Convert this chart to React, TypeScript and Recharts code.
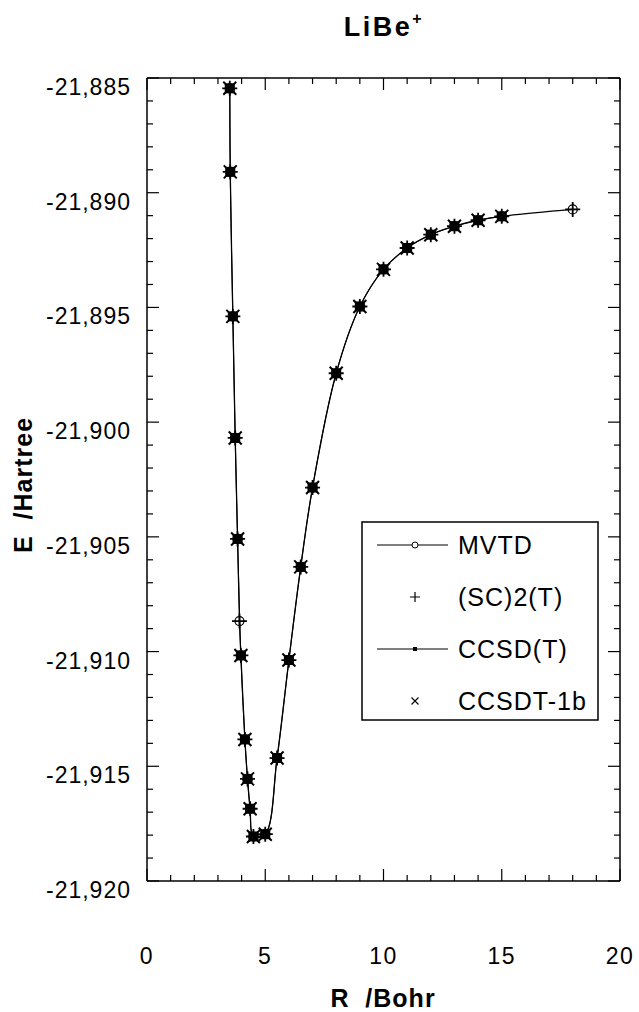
import React from 'react';
import { LineChart, Line, XAxis, YAxis } from 'recharts';

// ---- data ----
const R_MVTD = [3.5, 3.52, 3.63, 3.73, 3.83, 3.91, 3.97, 4.14, 4.25, 4.36, 4.5, 5, 5.5, 6, 6.5, 7, 8, 9, 10, 11, 12, 13, 14, 15, 18];
const E_MVTD = [-21.88545, -21.88909, -21.89539, -21.90069, -21.90509, -21.90867, -21.91017, -21.91383, -21.91555, -21.91685, -21.91806, -21.91796, -21.91464, -21.91037, -21.90631, -21.90285, -21.89787, -21.89496, -21.89334, -21.89241, -21.89183, -21.89146, -21.8912, -21.89103, -21.89073];

const R_SC2T = [3.5, 3.52, 3.63, 3.73, 3.83, 3.91, 3.97, 4.14, 4.25, 4.36, 4.5, 5, 5.5, 6, 6.5, 7, 8, 9, 10, 11, 12, 13, 14, 15, 18];
const E_SC2T = [-21.88545, -21.88909, -21.89539, -21.90069, -21.90509, -21.90867, -21.91017, -21.91383, -21.91555, -21.91685, -21.91806, -21.91796, -21.91464, -21.91037, -21.90631, -21.90285, -21.89787, -21.89496, -21.89334, -21.89241, -21.89183, -21.89146, -21.8912, -21.89103, -21.89073];

const R_CCSDT = [3.5, 3.52, 3.63, 3.73, 3.83, 3.97, 4.14, 4.25, 4.36, 4.5, 5, 5.5, 6, 6.5, 7, 8, 9, 10, 11, 12, 13, 14, 15];
const E_CCSDT = [-21.88545, -21.88909, -21.89539, -21.90069, -21.90509, -21.91017, -21.91383, -21.91555, -21.91685, -21.91806, -21.91796, -21.91464, -21.91037, -21.90631, -21.90285, -21.89787, -21.89496, -21.89334, -21.89241, -21.89183, -21.89146, -21.8912, -21.89103];

const R_CCSDT1B = [3.5, 3.52, 3.63, 3.73, 3.83, 3.97, 4.14, 4.25, 4.36, 4.5, 5, 5.5, 6, 6.5, 7, 8, 9, 10, 11, 12, 13, 14, 15];
const E_CCSDT1B = [-21.88545, -21.88909, -21.89539, -21.90069, -21.90509, -21.91017, -21.91383, -21.91555, -21.91685, -21.91806, -21.91796, -21.91464, -21.91037, -21.90631, -21.90285, -21.89787, -21.89496, -21.89334, -21.89241, -21.89183, -21.89146, -21.8912, -21.89103];

const X_TICKS = [0, 1, 2, 3, 4, 5, 6, 7, 8, 9, 10, 11, 12, 13, 14, 15, 16, 17, 18, 19, 20];
const X_LABELS = [0, 5, 10, 15, 20];
const X_DOMAIN = [0, 20];
const Y_DOMAIN = [-21.92, -21.885];
const Y_TICKS: number[] = [];
for (let i = 0; i <= 35; i++) Y_TICKS.push(Math.round((-21.92 + i * 0.001) * 1e6) / 1e6);

const TITLE = 'LiBe';
const X_TITLE = 'R  /Bohr';
const Y_TITLE = 'E  /Hartree';
const SERIES_NAMES = ['MVTD', '(SC)2(T)', 'CCSD(T)', 'CCSDT-1b'];

const toRows = (rs: number[], es: number[]) => rs.map((r, i) => ({ R: r, E: es[i] }));
const dMVTD = toRows(R_MVTD, E_MVTD);
const dSC2T = toRows(R_SC2T, E_SC2T);
const dCCSDT = toRows(R_CCSDT, E_CCSDT);
const dCCSDT1B = toRows(R_CCSDT1B, E_CCSDT1B);

// ---- layout ----
const W = 639;
const H = 1012;
const M_TOP = 78;
const M_RIGHT = 19;
const X_AXIS_H = 131;
const Y_AXIS_W = 147;
const PLOT_L = Y_AXIS_W;
const PLOT_R = W - M_RIGHT;
const PLOT_T = M_TOP;
const PLOT_B = H - X_AXIS_H;
// same linear mapping the chart uses, for the mirrored frame ticks on top / right
const fx = (v: number) => PLOT_L + ((v - X_DOMAIN[0]) / (X_DOMAIN[1] - X_DOMAIN[0])) * (PLOT_R - PLOT_L);
const fy = (v: number) => PLOT_T + ((Y_DOMAIN[1] - v) / (Y_DOMAIN[1] - Y_DOMAIN[0])) * (PLOT_B - PLOT_T);

const FONT = '"Liberation Sans", Arial, Helvetica, sans-serif';
const isMajorY = (v: number) => Math.round(v * 1000) % 5 === 0;
const fmtY = (v: number) => v.toFixed(3).replace('.', ',');

// centripetal Catmull-Rom curve factory (smooth interpolating spline)
const catmullRom = (context: any) => {
  let pts: number[][] = [];
  return {
    areaStart() {},
    areaEnd() {},
    lineStart() {
      pts = [];
    },
    point(x: number, y: number) {
      pts.push([+x, +y]);
    },
    lineEnd() {
      if (!pts.length) return;
      context.moveTo(pts[0][0], pts[0][1]);
      const n = pts.length;
      for (let i = 0; i < n - 1; i++) {
        const p0 = pts[Math.max(0, i - 1)];
        const p1 = pts[i];
        const p2 = pts[i + 1];
        const p3 = pts[Math.min(n - 1, i + 2)];
        const dist = (a: number[], b: number[]) => Math.hypot(b[0] - a[0], b[1] - a[1]);
        const l01 = dist(p0, p1), l12 = dist(p1, p2), l23 = dist(p2, p3);
        const l01a = Math.sqrt(l01), l12a = Math.sqrt(l12), l23a = Math.sqrt(l23);
        let c1 = [p1[0], p1[1]];
        let c2 = [p2[0], p2[1]];
        if (l01a > 1e-9) {
          const a = 2 * l01 + 3 * l01a * l12a + l12;
          const m = 3 * l01a * (l01a + l12a);
          c1 = [(p1[0] * a - p0[0] * l12 + p2[0] * l01) / m, (p1[1] * a - p0[1] * l12 + p2[1] * l01) / m];
        }
        if (l23a > 1e-9) {
          const b = 2 * l23 + 3 * l23a * l12a + l12;
          const m = 3 * l23a * (l23a + l12a);
          c2 = [(p2[0] * b + p1[0] * l23 - p3[0] * l12) / m, (p2[1] * b + p1[1] * l23 - p3[1] * l12) / m];
        }
        context.bezierCurveTo(c1[0], c1[1], c2[0], c2[1], p2[0], p2[1]);
      }
    },
  };
};

// ---- axis ticks ----
const BottomTick = (p: any) => {
  const v = p.payload.value;
  const major = X_LABELS.includes(v);
  return (
    <g>
      <line x1={p.x} y1={p.y} x2={p.x} y2={p.y - (major ? 12 : 6)} stroke="#000" strokeWidth={1.2} />
      {major && (
        <text x={p.x} y={964} textAnchor="middle" fontFamily={FONT} fontSize={23} letterSpacing={1.5} fill="#000">
          {v}
        </text>
      )}
    </g>
  );
};
const LeftTick = (p: any) => {
  const v = p.payload.value;
  const major = isMajorY(v);
  return (
    <g>
      <line x1={p.x} y1={p.y} x2={p.x + (major ? 12 : 6)} y2={p.y} stroke="#000" strokeWidth={1.2} />
      {major && (
        <text x={131} y={p.y + 17} textAnchor="end" fontFamily={FONT} fontSize={23} letterSpacing={1} fill="#000">
          {fmtY(v)}
        </text>
      )}
    </g>
  );
};

// ---- markers ----
const Circle = ({ cx, cy, r = 4 }: any) => <circle cx={cx} cy={cy} r={r} fill="none" stroke="#000" strokeWidth={1.2} />;
const Plus = ({ cx, cy, a = 6, w = 1.6 }: any) => (
  <path d={`M${cx - a},${cy}H${cx + a}M${cx},${cy - a}V${cy + a}`} stroke="#000" strokeWidth={w} fill="none" />
);
const Cross = ({ cx, cy, a = 5.5, w = 1.8 }: any) => (
  <path d={`M${cx - a},${cy - a}L${cx + a},${cy + a}M${cx - a},${cy + a}L${cx + a},${cy - a}`} stroke="#000" strokeWidth={w} fill="none" />
);
const Square = ({ cx, cy, s = 8 }: any) => <rect x={cx - s / 2} y={cy - s / 2} width={s} height={s} fill="#000" />;

const dotCircle = (p: any) => <Circle key={`c${p.index}`} cx={p.cx} cy={p.cy} r={4.5} />;
const dotPlus = (p: any) => <Plus key={`p${p.index}`} cx={p.cx} cy={p.cy} a={7.5} w={1.8} />;
const dotSquare = (p: any) => <Square key={`s${p.index}`} cx={p.cx} cy={p.cy} s={10} />;
const dotCross = (p: any) => <Cross key={`x${p.index}`} cx={p.cx} cy={p.cy} a={6.5} w={2} />;

const FrameTopRight = () => (
  <g>
    <line x1={PLOT_L} y1={PLOT_T} x2={PLOT_R} y2={PLOT_T} stroke="#000" strokeWidth={1.5} />
    <line x1={PLOT_R} y1={PLOT_T} x2={PLOT_R} y2={PLOT_B} stroke="#000" strokeWidth={1.5} />
    {X_TICKS.map((v) => (
      <line key={`t${v}`} x1={fx(v)} y1={PLOT_T} x2={fx(v)} y2={PLOT_T + (X_LABELS.includes(v) ? 12 : 6)} stroke="#000" strokeWidth={1.2} />
    ))}
    {Y_TICKS.map((v) => (
      <line key={`r${v}`} x1={PLOT_R} y1={fy(v)} x2={PLOT_R - (isMajorY(v) ? 12 : 6)} y2={fy(v)} stroke="#000" strokeWidth={1.2} />
    ))}
  </g>
);

const LegendBox = () => {
  const rows = [545, 597, 649, 701];
  return (
    <g>
      <rect x={362} y={522} width={236} height={198} fill="#fff" stroke="#000" strokeWidth={1.5} />
      {rows.map((y, i) => (
        <g key={i}>
          {(i === 0 || i === 2) && <line x1={377} y1={y} x2={448} y2={y} stroke="#000" strokeWidth={1.2} />}
          {i === 0 && <circle cx={415} cy={y} r={3} fill="#fff" stroke="#000" strokeWidth={1} />}
          {i === 1 && <Plus cx={415} cy={y} a={5} w={1.2} />}
          {i === 2 && <Square cx={415} cy={y} s={4} />}
          {i === 3 && <Cross cx={415} cy={y} a={3.5} w={1.1} />}
          <text x={458} y={y + 9} fontFamily={FONT} fontSize={25} letterSpacing={1} fill="#000">
            {SERIES_NAMES[i]}
          </text>
        </g>
      ))}
    </g>
  );
};

export default function App() {
  return (
    <div style={{ position: 'absolute', left: 0, top: 0, width: W, height: H, background: '#fff' }}>
      <svg width={W} height={H} style={{ position: 'absolute', left: 0, top: 0 }}>
        <text x={384} y={36} textAnchor="middle" fontFamily={FONT} fontWeight="bold" fontSize={27} letterSpacing={2.5} fill="#000">
          {TITLE}
          <tspan fontSize={16} dy={-12}>+</tspan>
        </text>
        <text x={383} y={1007} textAnchor="middle" fontFamily={FONT} fontWeight="bold" fontSize={25} letterSpacing={1} fill="#000" style={{ whiteSpace: 'pre' }}>
          {X_TITLE}
        </text>
        <text
          x={32}
          y={485}
          textAnchor="middle"
          fontFamily={FONT}
          fontWeight="bold"
          fontSize={25}
          letterSpacing={1}
          fill="#000"
          transform="rotate(-90, 32, 485)"
          style={{ whiteSpace: 'pre' }}
        >
          {Y_TITLE}
        </text>
      </svg>
      <div style={{ position: 'absolute', left: 0, top: 0 }}>
        <LineChart width={W} height={H} margin={{ top: M_TOP, right: M_RIGHT, bottom: 0, left: 0 }}>
          <XAxis
            dataKey="R"
            type="number"
            domain={X_DOMAIN}
            ticks={X_TICKS}
            orientation="bottom"
            height={X_AXIS_H}
            tickSize={0}
            tickMargin={0}
            tickLine={false}
            axisLine={{ stroke: '#000', strokeWidth: 1.5 }}
            tick={BottomTick}
            interval={0}
          />
          <YAxis
            type="number"
            domain={Y_DOMAIN}
            ticks={Y_TICKS}
            orientation="left"
            width={Y_AXIS_W}
            tickSize={0}
            tickMargin={0}
            tickLine={false}
            axisLine={{ stroke: '#000', strokeWidth: 1.5 }}
            tick={LeftTick}
            interval={0}
          />
          <Line
            data={dMVTD}
            dataKey="E"
            name="MVTD"
            type={catmullRom as any}
            stroke="#000"
            strokeWidth={1.3}
            dot={dotCircle}
            activeDot={false}
            isAnimationActive={false}
          />
          <Line
            data={dCCSDT}
            dataKey="E"
            name="CCSD(T)"
            type={catmullRom as any}
            stroke="#000"
            strokeWidth={1}
            dot={dotSquare}
            activeDot={false}
            isAnimationActive={false}
          />
          <Line
            data={dSC2T}
            dataKey="E"
            name="(SC)2(T)"
            stroke="none"
            strokeWidth={0}
            dot={dotPlus}
            activeDot={false}
            isAnimationActive={false}
          />
          <Line
            data={dCCSDT1B}
            dataKey="E"
            name="CCSDT-1b"
            stroke="none"
            strokeWidth={0}
            dot={dotCross}
            activeDot={false}
            isAnimationActive={false}
          />
        </LineChart>
      </div>
      <svg width={W} height={H} style={{ position: 'absolute', left: 0, top: 0, pointerEvents: 'none' }}>
        <FrameTopRight />
        <LegendBox />
      </svg>
    </div>
  );
}
